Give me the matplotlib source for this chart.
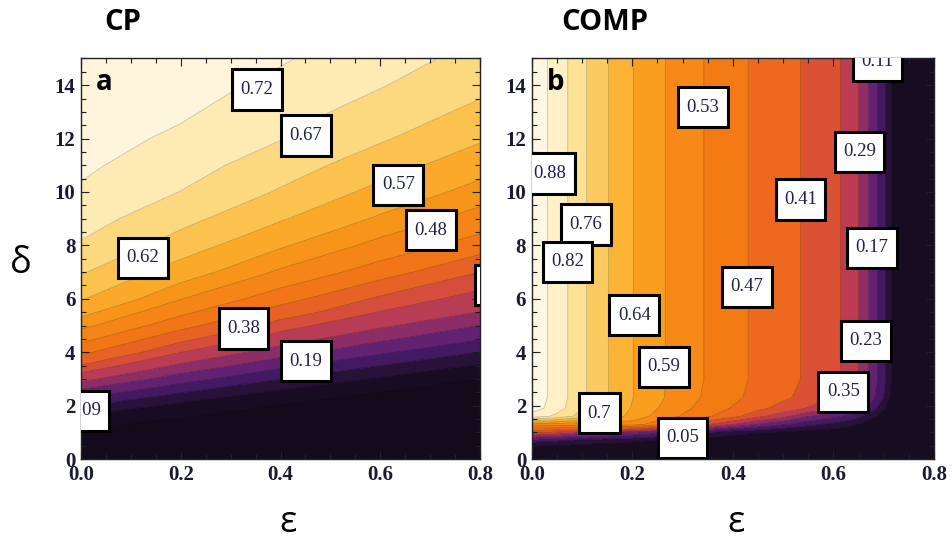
import numpy as np
import matplotlib
matplotlib.use("Agg")
import matplotlib.pyplot as plt
from matplotlib.colors import LinearSegmentedColormap, Normalize
from matplotlib.ticker import MultipleLocator
from matplotlib.path import Path

# ---- panel a (CP): value table, rows = delta, cols = eps
eps_a = [0.0, 0.2, 0.4, 0.6, 0.8]
delta_a = [0, 1, 1.5, 2, 2.5, 3, 3.5, 4, 4.5, 5, 5.5, 6, 7, 8, 9, 10, 11, 12,
           13, 14, 15]
z_a = [
    [0.000, 0.000, 0.000, 0.000, 0.000],
    [0.007, 0.006, 0.0045, 0.004, 0.003],
    [0.025, 0.008, 0.007, 0.006, 0.005],
    [0.100, 0.033, 0.009, 0.008, 0.007],
    [0.171, 0.098, 0.037, 0.0095, 0.008],
    [0.257, 0.161, 0.096, 0.041, 0.0099],
    [0.327, 0.231, 0.153, 0.095, 0.043],
    [0.392, 0.291, 0.214, 0.148, 0.094],
    [0.446, 0.343, 0.267, 0.200, 0.144],
    [0.494, 0.398, 0.309, 0.250, 0.189],
    [0.535, 0.442, 0.356, 0.288, 0.239],
    [0.574, 0.482, 0.401, 0.321, 0.271],
    [0.625, 0.545, 0.473, 0.404, 0.330],
    [0.665, 0.597, 0.526, 0.466, 0.406],
    [0.691, 0.636, 0.575, 0.513, 0.461],
    [0.714, 0.669, 0.615, 0.555, 0.503],
    [0.729, 0.691, 0.644, 0.593, 0.540],
    [0.740, 0.711, 0.672, 0.626, 0.576],
    [0.752, 0.727, 0.690, 0.650, 0.608],
    [0.764, 0.738, 0.709, 0.673, 0.633],
    [0.775, 0.750, 0.725, 0.690, 0.655],
]
levels_a = [0.01, 0.048, 0.095, 0.14, 0.19, 0.24, 0.29, 0.33, 0.38, 0.43,
            0.48, 0.52, 0.57, 0.62, 0.67, 0.72]
labels_a = ["0.72", "0.67", "0.57", "0.48", "0.62", "0.38", "0.19", "0.09", "0.29"]

# ---- panel b (COMP)
eps_b = [0.0, 0.05, 0.1, 0.15, 0.2, 0.25, 0.3, 0.35, 0.4, 0.45, 0.5, 0.55,
         0.6, 0.64, 0.66, 0.68, 0.70, 0.72, 0.74, 0.8]
delta_b = [0, 0.4, 0.7, 1.0, 1.3, 1.6, 1.9, 2.3, 3.0, 15]
z_b = [
    [0.000, 0.000, 0.000, 0.000, 0.000, 0.000, 0.000, 0.000, 0.000, 0.000,
     0.000, 0.000, 0.000, 0.000, 0.000, 0.000, 0.000, 0.000, 0.000, 0.000],
    [0.018, 0.017, 0.008, 0.007, 0.000, 0.000, 0.000, 0.000, 0.000, 0.000,
     0.000, 0.000, 0.000, 0.000, 0.000, 0.000, 0.000, 0.000, 0.000, 0.000],
    [0.138, 0.120, 0.093, 0.077, 0.064, 0.048, 0.034, 0.021, 0.010, 0.005,
     0.000, 0.000, 0.000, 0.000, 0.000, 0.000, 0.000, 0.000, 0.000, 0.000],
    [0.368, 0.342, 0.294, 0.253, 0.225, 0.193, 0.158, 0.115, 0.073, 0.055,
     0.039, 0.024, 0.015, 0.006, 0.000, 0.000, 0.000, 0.000, 0.000, 0.000],
    [0.570, 0.565, 0.557, 0.562, 0.565, 0.494, 0.428, 0.356, 0.293, 0.229,
     0.181, 0.128, 0.096, 0.063, 0.031, 0.010, 0.000, 0.000, 0.000, 0.000],
    [0.856, 0.805, 0.734, 0.675, 0.623, 0.573, 0.524, 0.477, 0.430, 0.366,
     0.310, 0.233, 0.184, 0.143, 0.104, 0.059, 0.019, 0.000, 0.000, 0.000],
    [0.911, 0.847, 0.765, 0.696, 0.636, 0.591, 0.546, 0.503, 0.465, 0.426,
     0.387, 0.345, 0.302, 0.254, 0.195, 0.128, 0.058, 0.000, 0.000, 0.000],
    [0.920, 0.856, 0.773, 0.703, 0.642, 0.603, 0.557, 0.519, 0.484, 0.449,
     0.421, 0.389, 0.353, 0.301, 0.242, 0.177, 0.109, 0.014, 0.000, 0.000],
    [0.920, 0.856, 0.773, 0.703, 0.642, 0.603, 0.563, 0.524, 0.489, 0.458,
     0.430, 0.401, 0.368, 0.317, 0.260, 0.197, 0.128, 0.028, 0.000, 0.000],
    [0.920, 0.856, 0.773, 0.703, 0.642, 0.603, 0.563, 0.524, 0.489, 0.458,
     0.430, 0.401, 0.368, 0.317, 0.260, 0.197, 0.128, 0.028, 0.000, 0.000],
]
levels_b = [0.05, 0.11, 0.17, 0.23, 0.29, 0.35, 0.41, 0.47, 0.53, 0.59,
            0.64, 0.70, 0.76, 0.82, 0.88]
labels_b = ["0.11", "0.53", "0.88", "0.29", "0.41", "0.76", "0.17", "0.82",
            "0.47", "0.64", "0.23", "0.59", "0.35", "0.7", "0.05"]

# where the boxed labels sit (eps, delta)
label_pos_a = [(0.3525, 13.84), (0.451, 12.12), (0.636, 10.27), (0.702, 8.57),
               (0.124, 7.54), (0.326, 4.89), (0.451, 3.67), (0.007, 1.81),
               (0.839, 6.51)]
label_pos_b = [(0.688, 14.9), (0.341, 13.17), (0.0366, 10.69), (0.652, 11.5),
               (0.5345, 9.72), (0.1076, 8.78), (0.676, 7.91), (0.0712, 7.38),
               (0.4285, 6.45), (0.2038, 5.39), (0.6644, 4.42), (0.2627, 3.45),
               (0.6197, 2.52), (0.1345, 1.71), (0.300, 0.80)]

sunset = LinearSegmentedColormap.from_list("sunset", [
    (0.00, "#120a1a"), (0.06, "#1c0e28"), (0.12, "#34154c"), (0.18, "#501c72"),
    (0.24, "#6f2870"), (0.30, "#9a3262"), (0.36, "#c44050"), (0.42, "#de5432"),
    (0.48, "#ec6a1e"), (0.54, "#f47a14"), (0.62, "#f68c18"), (0.68, "#f9a11f"),
    (0.75, "#fbbb3e"), (0.82, "#fcd676"), (0.88, "#fde8a8"), (0.94, "#fff2d0"),
    (1.00, "#fff9ec")])

plt.rcParams["font.family"] = "Liberation Serif"


def label_box(x0, y0, width, height, mutation_size):
    # taller than wide padding, like the boxed contour labels
    px = 0.45 * mutation_size
    py = 0.62 * mutation_size
    x0, y0 = x0 - px, y0 - py
    x1, y1 = x0 + width + 2 * px, y0 + height + 2 * py
    return Path([(x0, y0), (x1, y0), (x1, y1), (x0, y1), (x0, y0)],
                closed=True)


fig = plt.figure(figsize=(9.52, 5.42), dpi=100)
ax_a = fig.add_axes([0.0851, 0.1531, 0.4191, 0.739])
ax_b = fig.add_axes([0.5585, 0.1531, 0.4226, 0.739])


def draw_panel(ax, eps, delta, z, levels, labels, label_pos, letter):
    z = np.array(z)
    top = z.max() + 0.001
    bounds = [-0.001] + list(levels) + [top]
    ax.contourf(eps, delta, z, levels=bounds, cmap=sunset,
                norm=Normalize(-0.001, top))
    ax.contour(eps, delta, z, levels=levels, colors="k",
               linewidths=0.6, alpha=0.22)
    for txt, (x, y) in zip(labels, label_pos):
        ax.text(x, y, txt, ha="center", va="center", fontsize=13.5,
                color="#20204f", clip_on=True, zorder=5,
                bbox=dict(boxstyle=label_box, fc="white",
                          ec="black", lw=2.2))
    ax.text(0.038, 0.921, letter, transform=ax.transAxes, fontsize=20,
            fontweight="bold", family="Open Sans", va="baseline", zorder=6)

    ax.set_xlim(0, 0.8)
    ax.set_ylim(0, 15)
    ax.set_xticks([0.0, 0.2, 0.4, 0.6, 0.8])
    ax.set_yticks(range(0, 15, 2))
    ax.xaxis.set_minor_locator(MultipleLocator(0.05))
    ax.yaxis.set_minor_locator(MultipleLocator(0.5))
    ax.tick_params(which="both", direction="in", top=True, right=True,
                   width=0.8, color="#222222")
    ax.tick_params(which="major", length=6, labelsize=15,
                   labelcolor="#1a1a33", pad=4)
    ax.tick_params(which="minor", length=3.5)
    for t in ax.get_xticklabels() + ax.get_yticklabels():
        t.set_fontweight("bold")
    for s in ax.spines.values():
        s.set_linewidth(1.0)
        s.set_color("#222222")


draw_panel(ax_a, eps_a, delta_a, z_a, levels_a, labels_a, label_pos_a, "a")
draw_panel(ax_b, eps_b, delta_b, z_b, levels_b, labels_b, label_pos_b, "b")

fig.text(0.110, 0.9446, "CP", family="Open Sans", fontweight="bold",
         fontsize=21, va="baseline")
fig.text(0.590, 0.9446, "COMP", family="Open Sans", fontweight="bold",
         fontsize=21, va="baseline")
fig.text(0.022, 0.496, "δ", family="Open Sans", fontsize=26,
         ha="center", va="baseline")
fig.text(0.3025, 0.002, "ε", family="Open Sans", fontsize=26,
         ha="center", va="bottom")
fig.text(0.7726, 0.002, "ε", family="Open Sans", fontsize=26,
         ha="center", va="bottom")

fig.savefig("out.png", dpi=100)
